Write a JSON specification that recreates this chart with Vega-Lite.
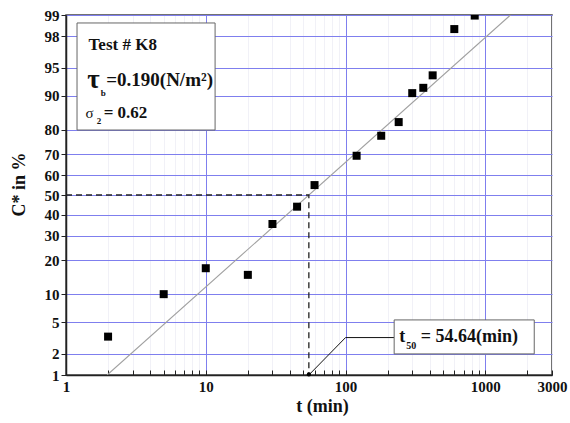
{
  "$schema": "https://vega.github.io/schema/vega-lite/v6.json",
  "width": 486,
  "height": 360,
  "autosize": "none",
  "padding": {"left": 66, "top": 15, "right": 18, "bottom": 48},
  "config": {
    "view": {"stroke": "#444444", "strokeWidth": 1.5},
    "font": "Liberation Serif, Times New Roman, serif"
  },
  "encoding": {
    "x": {"field": "t", "type": "quantitative",
      "scale": {"type": "log", "domain": [1, 3000], "nice": false},
      "axis": {
        "title": "t (min)",
        "values": [1,2,3,4,5,6,7,8,9,10,20,30,40,50,60,70,80,90,100,200,300,400,500,600,700,800,900,1000,2000,3000],
        "labelExpr": "indexof([1,10,100,1000,3000], datum.value) >= 0 ? format(datum.value, 'd') : ''",
        "labelOverlap": false,
        "labelBound": false,
        "labelFlush": false,
        "labelFont": "Liberation Serif, Times New Roman, serif", "labelFontWeight": "bold", "labelFontSize": 15, "labelColor": "#111111",
        "labelPadding": 9,
        "tickSize": -5, "tickColor": "#222222", "tickWidth": 1,
        "domainColor": "#222222", "domainWidth": 1.5,
        "grid": true,
        "gridColor": {"condition": {"test": "indexof([1,10,100,1000], datum.value) >= 0", "value": "#7f7fee"}, "value": "#f1f1f7"},
        "gridWidth": 1,
        "titleFont": "Liberation Serif, Times New Roman, serif", "titleFontWeight": "bold", "titleFontSize": 18, "titleColor": "#111111",
        "titleX": 256, "titleY": 31, "titleBaseline": "middle", "titleAlign": "center"
      }
    },
    "y": {"field": "z", "type": "quantitative",
      "scale": {"domain": [-2.3263, 2.3263], "nice": false, "zero": false},
      "axis": {
        "title": "C* in %",
        "values": [-2.3263, -2.0537, -1.6449, -1.2816, -0.8416, -0.5244, -0.2533, 0, 0.2533, 0.5244, 0.8416, 1.2816, 1.6449, 2.0537, 2.3263],
        "labelExpr": "format(round(cumulativeNormal(datum.value)*100), 'd')",
        "labelOverlap": false,
        "labelBound": false,
        "labelFont": "Liberation Serif, Times New Roman, serif", "labelFontWeight": "bold", "labelFontSize": 15, "labelColor": "#111111",
        "labelPadding": 2,
        "tickSize": 5, "tickColor": "#222222",
        "domainColor": "#222222", "domainWidth": 1.5,
        "grid": true, "gridColor": "#7f7fee", "gridWidth": 1,
        "titleFont": "Liberation Serif, Times New Roman, serif", "titleFontWeight": "bold", "titleFontSize": 18, "titleColor": "#111111",
        "titleX": -47, "titleY": 169, "titleBaseline": "middle", "titleAlign": "center", "titleAngle": -90
      }
    }
  },
  "layer": [
    {
      "data": {"values": [
        {"t": 54.64, "pct": 1}, {"t": 100, "pct": 3.27}, {"t": 222.8, "pct": 3.27}
      ]},
      "transform": [{"calculate": "quantileNormal(datum.pct/100)", "as": "z"}],
      "mark": {"type": "line", "color": "#111111", "strokeWidth": 1, "clip": true}
    },
    {
      "data": {"values": [{"t": 1.97, "pct": 1}, {"t": 1513, "pct": 99}]},
      "transform": [{"calculate": "quantileNormal(datum.pct/100)", "as": "z"}],
      "mark": {"type": "line", "color": "#a0a0a0", "strokeWidth": 1.1, "clip": true}
    },
    {
      "data": {"values": [
        {"k": 1, "t": 1, "pct": 50}, {"k": 2, "t": 54.64, "pct": 50}, {"k": 3, "t": 54.64, "pct": 1}
      ]},
      "transform": [{"calculate": "quantileNormal(datum.pct/100)", "as": "z"}],
      "mark": {"type": "line", "color": "#222222", "strokeWidth": 1.3, "strokeDash": [6, 4], "clip": true},
      "encoding": {
        "order": {"field": "k", "type": "quantitative"}
      }
    },
    {
      "data": {"values": [{"t": 1.199, "t2": 11.66, "pct": 79.95, "pct2": 98.69}]},
      "transform": [
        {"calculate": "quantileNormal(datum.pct/100)", "as": "z"},
        {"calculate": "quantileNormal(datum.pct2/100)", "as": "z2"}
      ],
      "mark": {"type": "rect", "fill": "#ffffff", "stroke": "#666666", "strokeWidth": 1},
      "encoding": {
        "x2": {"field": "t2"},
        "y2": {"field": "z2"}
      }
    },
    {
      "data": {"values": [{"t": 222.8, "t2": 2239, "pct": 2.0, "pct2": 5.32}]},
      "transform": [
        {"calculate": "quantileNormal(datum.pct/100)", "as": "z"},
        {"calculate": "quantileNormal(datum.pct2/100)", "as": "z2"}
      ],
      "mark": {"type": "rect", "fill": "#ffffff", "stroke": "#666666", "strokeWidth": 1},
      "encoding": {
        "x2": {"field": "t2"},
        "y2": {"field": "z2"}
      }
    },
    {
      "data": {"values": [
        {"t": 2, "pct": 3.36}, {"t": 5, "pct": 10.0}, {"t": 10, "pct": 17.2}, {"t": 20, "pct": 15.1},
        {"t": 30, "pct": 35.4}, {"t": 45, "pct": 44.0}, {"t": 60, "pct": 55.1}, {"t": 120, "pct": 69.4},
        {"t": 180, "pct": 77.8}, {"t": 240, "pct": 82.7}, {"t": 300, "pct": 90.6}, {"t": 360, "pct": 91.7},
        {"t": 420, "pct": 93.9}, {"t": 600, "pct": 98.4}, {"t": 840, "pct": 98.98}
      ]},
      "transform": [{"calculate": "quantileNormal(datum.pct/100)", "as": "z"}],
      "mark": {"type": "point", "shape": "square", "filled": true, "color": "#000000", "size": 64, "opacity": 1, "clip": true}
    },
    {
      "data": {"values": [{"t": 54.64, "pct": 1.02}]},
      "transform": [{"calculate": "quantileNormal(datum.pct/100)", "as": "z"}],
      "mark": {"type": "point", "shape": "circle", "filled": true, "color": "#000000", "size": 18, "opacity": 1}
    },
    {
      "data": {"values": [{"label": "Test # K8", "t": 1.45, "pct": 97.37}]},
      "transform": [{"calculate": "quantileNormal(datum.pct/100)", "as": "z"}],
      "mark": {"type": "text", "align": "left", "baseline": "middle", "font": "Liberation Serif, Times New Roman, serif", "fontWeight": "bold", "fontSize": 17, "color": "#111111"},
      "encoding": {"text": {"field": "label"}}
    },
    {
      "data": {"values": [{"label": "τ", "t": 1.42, "pct": 93.13}]},
      "transform": [{"calculate": "quantileNormal(datum.pct/100)", "as": "z"}],
      "mark": {"type": "text", "align": "left", "baseline": "middle", "font": "Liberation Serif, Times New Roman, serif", "fontWeight": "bold", "fontSize": 27, "color": "#111111"},
      "encoding": {"text": {"field": "label"}}
    },
    {
      "data": {"values": [{"label": "b", "t": 1.77, "pct": 90.6}, {"label": "2", "t": 1.66, "pct": 83.2}]},
      "transform": [{"calculate": "quantileNormal(datum.pct/100)", "as": "z"}],
      "mark": {"type": "text", "align": "left", "baseline": "middle", "font": "Liberation Serif, Times New Roman, serif", "fontWeight": "bold", "fontSize": 9, "color": "#111111"},
      "encoding": {"text": {"field": "label"}}
    },
    {
      "data": {"values": [{"label": "=0.190(N/m²)", "t": 1.94, "pct": 93.13}]},
      "transform": [{"calculate": "quantileNormal(datum.pct/100)", "as": "z"}],
      "mark": {"type": "text", "align": "left", "baseline": "middle", "font": "Liberation Serif, Times New Roman, serif", "fontWeight": "bold", "fontSize": 19, "color": "#111111"},
      "encoding": {"text": {"field": "label"}}
    },
    {
      "data": {"values": [{"label": "σ", "t": 1.38, "pct": 85.5}]},
      "transform": [{"calculate": "quantileNormal(datum.pct/100)", "as": "z"}],
      "mark": {"type": "text", "align": "left", "baseline": "middle", "font": "Liberation Serif, Times New Roman, serif", "fontWeight": "normal", "fontSize": 15, "color": "#111111"},
      "encoding": {"text": {"field": "label"}}
    },
    {
      "data": {"values": [{"label": "= 0.62", "t": 1.86, "pct": 85.5}]},
      "transform": [{"calculate": "quantileNormal(datum.pct/100)", "as": "z"}],
      "mark": {"type": "text", "align": "left", "baseline": "middle", "font": "Liberation Serif, Times New Roman, serif", "fontWeight": "bold", "fontSize": 17, "color": "#111111"},
      "encoding": {"text": {"field": "label"}}
    },
    {
      "data": {"values": [{"label": "t", "t": 242, "pct": 3.33}, {"label": "= 54.64(min)", "t": 345, "pct": 3.33}]},
      "transform": [{"calculate": "quantileNormal(datum.pct/100)", "as": "z"}],
      "mark": {"type": "text", "align": "left", "baseline": "middle", "font": "Liberation Serif, Times New Roman, serif", "fontWeight": "bold", "fontSize": 18, "color": "#111111"},
      "encoding": {"text": {"field": "label"}}
    },
    {
      "data": {"values": [{"label": "50", "t": 272, "pct": 2.55}]},
      "transform": [{"calculate": "quantileNormal(datum.pct/100)", "as": "z"}],
      "mark": {"type": "text", "align": "left", "baseline": "middle", "font": "Liberation Serif, Times New Roman, serif", "fontWeight": "bold", "fontSize": 10, "color": "#111111"},
      "encoding": {"text": {"field": "label"}}
    }
  ]
}
